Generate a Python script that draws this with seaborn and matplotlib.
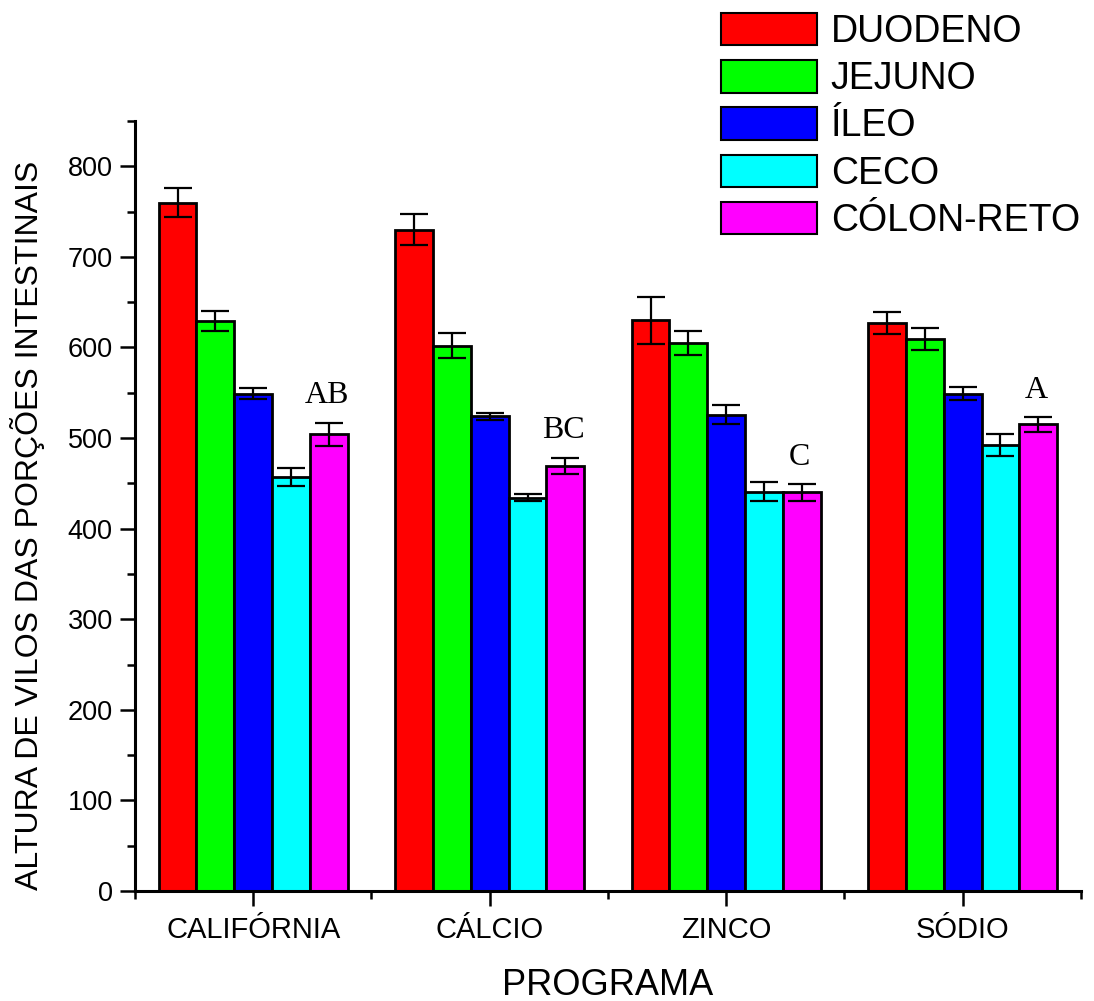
import matplotlib
matplotlib.use("Agg")
import matplotlib.pyplot as plt
from matplotlib.container import BarContainer
from matplotlib.ticker import FixedLocator, MultipleLocator
import numpy as np
import pandas as pd
import seaborn as sns

# Villus height per intestinal segment for each program (mean and SD)
programas = ["CALIFÓRNIA", "CÁLCIO", "ZINCO", "SÓDIO"]
porcoes = ["DUODENO", "JEJUNO", "ÍLEO", "CECO", "CÓLON-RETO"]
duodeno = [760, 730, 630, 627]
jejuno = [629, 602, 605, 609]
ileo = [549, 524, 526, 549]
ceco = [457, 434, 441, 492]
colon_reto = [504, 469, 440, 515]
duodeno_sd = [16, 17, 26, 12]
jejuno_sd = [11, 14, 13, 12]
ileo_sd = [6, 4, 11, 7]
ceco_sd = [10, 4, 11, 12]
colon_reto_sd = [13, 9, 9, 8]
letras = ["AB", "BC", "C", "A"]
cores = ["#FF0000", "#00FF00", "#0000FF", "#00FFFF", "#FF00FF"]

medias = [duodeno, jejuno, ileo, ceco, colon_reto]
desvios = [duodeno_sd, jejuno_sd, ileo_sd, ceco_sd, colon_reto_sd]

df = pd.DataFrame(
    [(p, s, medias[i][j]) for i, s in enumerate(porcoes) for j, p in enumerate(programas)],
    columns=["programa", "porcao", "altura"],
)

sns.set_theme(style="ticks")
plt.rcParams["font.family"] = ["Liberation Sans", "DejaVu Sans"]
plt.rcParams.update({
    "text.color": "black", "axes.labelcolor": "black",
    "xtick.color": "black", "ytick.color": "black",
    "xtick.labelcolor": "black", "ytick.labelcolor": "black",
})

fig = plt.figure(figsize=(10.94, 10.01), dpi=100)
ax = fig.add_axes([0.1234, 0.1099, 0.8646, 0.7692])

sns.barplot(
    data=df, x="programa", y="altura", hue="porcao",
    order=programas, hue_order=porcoes, palette=cores,
    saturation=1, width=0.8, gap=0, errorbar=None,
    edgecolor="black", linewidth=2.0, legend=False, ax=ax,
)

bar_groups = [c for c in ax.containers if isinstance(c, BarContainer)]

# standard deviation bars on every bar
for i, cont in enumerate(bar_groups):
    xs = [b.get_x() + b.get_width() / 2 for b in cont]
    ax.errorbar(xs, medias[i], yerr=desvios[i], fmt="none", ecolor="black",
                elinewidth=1.6, capsize=10, capthick=1.6, zorder=5)

# significance letters above the CÓLON-RETO bars
for j, b in enumerate(bar_groups[-1]):
    xc = b.get_x() + b.get_width() / 2
    ax.text(xc - 0.01, colon_reto[j] + colon_reto_sd[j] + 14, letras[j],
            ha="center", va="bottom", fontsize=23, family="Liberation Serif",
            color="black")

ax.set_xlim(-0.5, 3.5)
ax.set_ylim(0, 850)
ax.yaxis.set_major_locator(FixedLocator(np.arange(0, 801, 100)))
ax.yaxis.set_minor_locator(MultipleLocator(50))
ax.xaxis.set_minor_locator(FixedLocator(np.arange(-0.5, 3.6, 1.0)))

sns.despine(ax=ax)
for s in ("left", "bottom"):
    ax.spines[s].set_linewidth(2.2)
    ax.spines[s].set_color("black")

ax.tick_params(axis="both", which="major", direction="out", length=11, width=1.8,
               color="black", labelcolor="black")
ax.tick_params(axis="both", which="minor", direction="out", length=6, width=1.8, color="black")
ax.tick_params(axis="y", labelsize=19.5, pad=5)
ax.tick_params(axis="x", labelsize=21, pad=7)

ax.set_xlabel("PROGRAMA", fontsize=26, labelpad=17, color="black")
ax.set_ylabel("ALTURA DE VILOS DAS PORÇÕES INTESTINAIS", fontsize=23, color="black")
ax.yaxis.set_label_coords(-0.095, 0.475)

handles = [plt.Rectangle((0, 0), 1, 1, facecolor=c, edgecolor="black", linewidth=1.5) for c in cores]
leg = fig.legend(handles, porcoes, loc="upper left", bbox_to_anchor=(0.659, 0.987),
                 frameon=False, fontsize=27, handlelength=2.55, handleheight=0.95,
                 handletextpad=0.38, labelspacing=0.27, borderpad=0, borderaxespad=0)
for t in leg.get_texts():
    t.set_color("black")

fig.savefig("out.png", dpi=100)
